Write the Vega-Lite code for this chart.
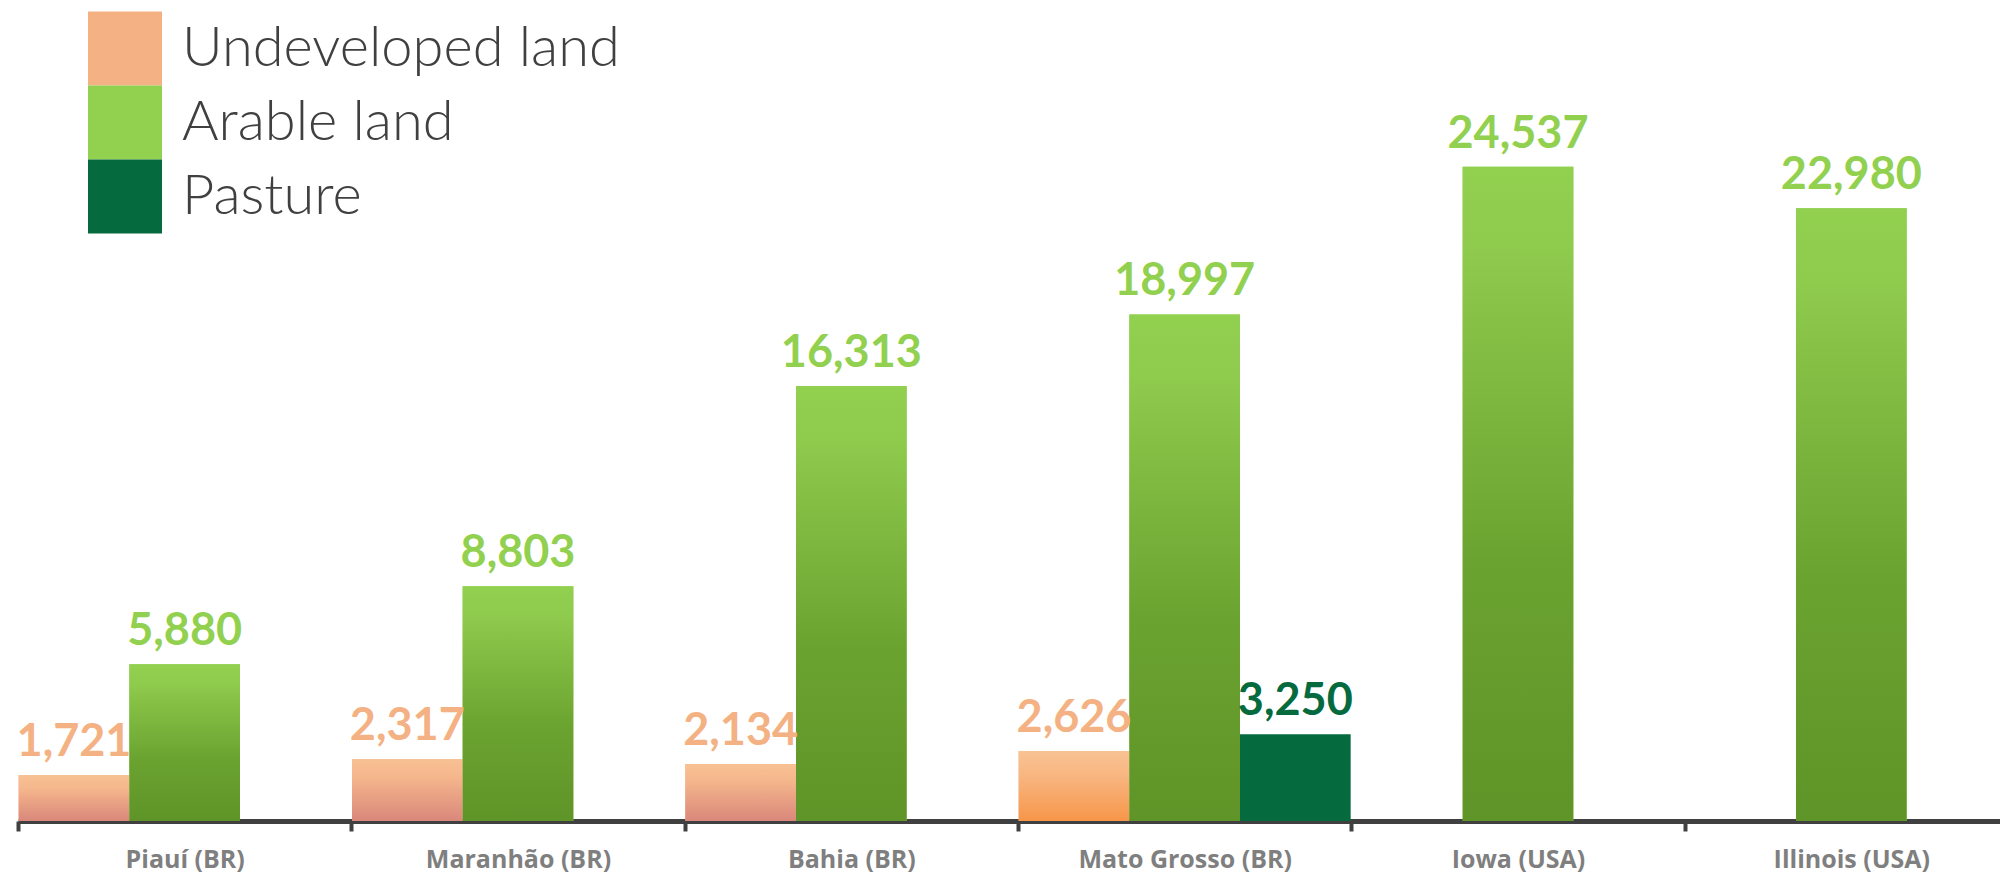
{
  "$schema": "https://vega.github.io/schema/vega-lite/v6.json",
  "width": 2000,
  "height": 800,
  "autosize": {"type": "none"},
  "padding": {"left": 18, "right": -18, "top": 21, "bottom": 55},
  "background": "white",
  "config": {"view": {"stroke": null}},
  "data": {
    "values": [
      {"state": "Piauí (BR)", "type": "Undeveloped land", "value": 1721},
      {"state": "Piauí (BR)", "type": "Arable land", "value": 5880},
      {"state": "Maranhão (BR)", "type": "Undeveloped land", "value": 2317},
      {"state": "Maranhão (BR)", "type": "Arable land", "value": 8803},
      {"state": "Bahia (BR)", "type": "Undeveloped land", "value": 2134},
      {"state": "Bahia (BR)", "type": "Arable land", "value": 16313},
      {"state": "Mato Grosso (BR)", "type": "Undeveloped land", "value": 2626},
      {"state": "Mato Grosso (BR)", "type": "Arable land", "value": 18997},
      {"state": "Mato Grosso (BR)", "type": "Pasture", "value": 3250},
      {"state": "Iowa (USA)", "type": "Arable land", "value": 24537},
      {"state": "Illinois (USA)", "type": "Arable land", "value": 22980}
    ]
  },
  "encoding": {
    "x": {
      "field": "state", "type": "nominal",
      "sort": ["Piauí (BR)", "Maranhão (BR)", "Bahia (BR)", "Mato Grosso (BR)", "Iowa (USA)", "Illinois (USA)"],
      "scale": {"paddingInner": 0, "paddingOuter": 0},
      "axis": {
        "title": null, "labelAngle": 0, "grid": false,
        "domainColor": "#404040", "domainWidth": 5,
        "tickColor": "#404040", "tickWidth": 4, "tickSize": 10, "tickBand": "extent",
        "labelFont": "Open Sans", "labelFontSize": 25, "labelFontWeight": "bold",
        "labelColor": "#7F7F7F", "labelPadding": 16, "labelLimit": 400
      }
    },
    "xOffset": {
      "field": "type", "type": "nominal",
      "scale": {"domain": ["Undeveloped land", "Arable land", "Pasture"], "paddingInner": 0, "paddingOuter": 0.006}
    },
    "y": {"field": "value", "type": "quantitative", "scale": {"domain": [0, 30000]}, "axis": null}
  },
  "layer": [
    {
      "mark": {"type": "bar"},
      "encoding": {
        "color": {
          "field": "type", "type": "nominal",
          "scale": {"domain": ["Undeveloped land", "Arable land", "Pasture"], "range": ["#F4B183", "#92D050", "#066A3F"]},
          "legend": {
            "title": null, "orient": "none", "legendX": 70, "legendY": -9.5,
            "symbolType": "square", "symbolSize": 5476, "symbolStrokeWidth": 0, "symbolOpacity": 1,
            "labelFont": "Lato", "labelFontSize": 56, "labelFontWeight": 300, "labelColor": "#404040",
            "labelOffset": 20, "rowPadding": 0, "padding": 0, "labelLimit": 0
          }
        }
      }
    },
    {
      "transform": [{"filter": "datum.type === 'Undeveloped land' && datum.state !== 'Mato Grosso (BR)'"}],
      "mark": {"type": "bar", "color": {"gradient": "linear", "x1": 0, "y1": 0, "x2": 0, "y2": 1,
        "stops": [{"offset": 0, "color": "#F8C193"}, {"offset": 0.3, "color": "#F5B68C"}, {"offset": 1, "color": "#D9877A"}]}}
    },
    {
      "transform": [{"filter": "datum.type === 'Undeveloped land' && datum.state === 'Mato Grosso (BR)'"}],
      "mark": {"type": "bar", "color": {"gradient": "linear", "x1": 0, "y1": 0, "x2": 0, "y2": 1,
        "stops": [{"offset": 0, "color": "#F9C293"}, {"offset": 0.35, "color": "#F8B681"}, {"offset": 1, "color": "#F7964A"}]}}
    },
    {
      "transform": [{"filter": "datum.type === 'Arable land'"}],
      "mark": {"type": "bar", "color": {"gradient": "linear", "x1": 0, "y1": 0, "x2": 0, "y2": 1,
        "stops": [{"offset": 0, "color": "#92D050"}, {"offset": 0.12, "color": "#8FCB4D"}, {"offset": 0.6, "color": "#6BA330"}, {"offset": 1, "color": "#5F9428"}]}}
    },
    {
      "mark": {"type": "text", "baseline": "alphabetic", "dy": -19, "font": "Lato", "fontSize": 45, "fontWeight": "bold"},
      "encoding": {
        "text": {"field": "value", "type": "quantitative", "format": ","},
        "color": {
          "field": "type", "type": "nominal",
          "scale": {"domain": ["Undeveloped land", "Arable land", "Pasture"], "range": ["#F4B183", "#92D050", "#066A3F"]},
          "legend": {
            "title": null, "orient": "none", "legendX": 70, "legendY": -9.5,
            "symbolType": "square", "symbolSize": 5476, "symbolStrokeWidth": 0, "symbolOpacity": 1,
            "labelFont": "Lato", "labelFontSize": 56, "labelFontWeight": 300, "labelColor": "#404040",
            "labelOffset": 20, "rowPadding": 0, "padding": 0, "labelLimit": 0
          }
        }
      }
    }
  ]
}
